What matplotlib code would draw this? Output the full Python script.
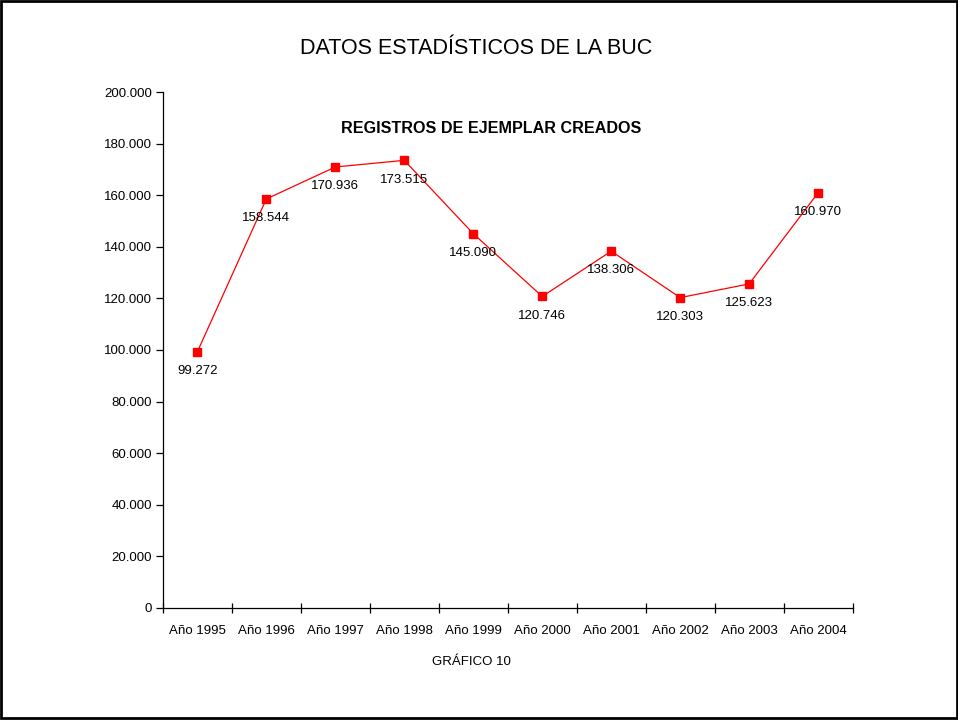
import matplotlib.pyplot as plt
from matplotlib.patches import Rectangle
from matplotlib.ticker import FixedLocator, FuncFormatter, MultipleLocator

plt.rcParams['font.family'] = ['Liberation Sans', 'DejaVu Sans']

anios = ['Año 1995', 'Año 1996', 'Año 1997', 'Año 1998', 'Año 1999',
         'Año 2000', 'Año 2001', 'Año 2002', 'Año 2003', 'Año 2004']
registros = [99272, 158544, 170936, 173515, 145090,
             120746, 138306, 120303, 125623, 160970]


def miles(v, pos=None):
    # separador de miles con punto
    return f'{int(v):,}'.replace(',', '.')


fig = plt.figure(figsize=(9.58, 7.2), dpi=100)
ax = fig.add_axes([0.170, 0.1556, 0.720, 0.7166])

x = list(range(len(anios)))
ax.plot(x, registros, color='#ff0000', lw=0.9, marker='s', ms=5.5,
        mec='#ff0000', mfc='#ff0000')

for xi, v in zip(x, registros):
    ax.annotate(miles(v), (xi, v), xytext=(0, -9.5), textcoords='offset points',
                ha='center', va='top', fontsize=9.5)

ax.set_xlim(-0.5, len(anios) - 0.5)
ax.set_ylim(0, 200000)
ax.yaxis.set_major_locator(MultipleLocator(20000))
ax.yaxis.set_major_formatter(FuncFormatter(miles))
ax.xaxis.set_major_locator(FixedLocator([i - 0.5 for i in range(len(anios) + 1)]))
ax.set_xticklabels([])
ax.set_xticks(x, minor=True)
ax.set_xticklabels(anios, minor=True)
ax.tick_params(axis='x', which='minor', length=0, pad=12, labelsize=9.5)
ax.tick_params(axis='x', which='major', direction='inout', length=7, width=0.9)
ax.tick_params(axis='y', direction='out', length=5, width=0.9, labelsize=9.5, pad=3)

for s in ['top', 'right']:
    ax.spines[s].set_visible(False)
for s in ['left', 'bottom']:
    ax.spines[s].set_linewidth(0.9)

ax.text(0.476, 0.930, 'REGISTROS DE EJEMPLAR CREADOS', transform=ax.transAxes,
        ha='center', va='center', fontsize=11.6, fontweight='bold')

fig.text(0.497, 0.933, 'DATOS ESTADÍSTICOS DE LA BUC', ha='center', va='center',
         fontsize=15.5)
fig.text(0.492, 0.081, 'GRÁFICO 10', ha='center', va='center', fontsize=9.5)

# marco de la figura
fig.patches.append(Rectangle((0.001, 0.003), 0.998, 0.995, transform=fig.transFigure,
                             fill=False, edgecolor='black', lw=2))

fig.savefig('out.png', dpi=100)
